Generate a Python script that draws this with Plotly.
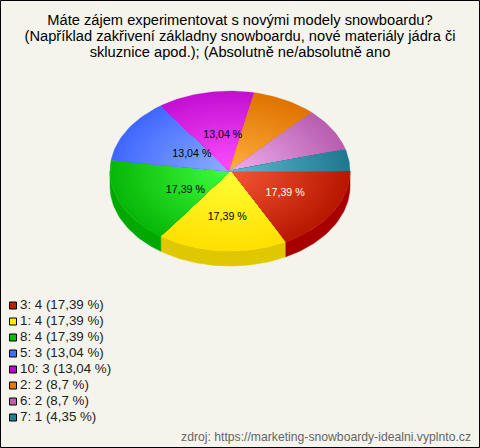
import math
import plotly.graph_objects as go

# ---- data ----
categories = ["3", "1", "8", "5", "10", "2", "6", "7"]
counts = [4, 4, 4, 3, 3, 2, 2, 1]
percent_labels = ["17,39", "17,39", "17,39", "13,04", "13,04", "8,7", "8,7", "4,35"]
slice_labelled = [True, True, True, True, True, False, False, False]
title_lines = [
    "Máte zájem experimentovat s novými modely snowboardu?",
    "(Například zakřivení základny snowboardu, nové materiály jádra či",
    "skluznice apod.); (Absolutně ne/absolutně ano",
]
source_text = "zdroj: https://marketing-snowboardy-idealni.vyplnto.cz"

# ---- styles ----
legend_colors = ["#c02000", "#ffe800", "#00c000", "#4070ff", "#c000d8", "#e87800", "#c060b0", "#208098"]
inner_colors = ["#f85838", "#ffff38", "#40ff40", "#90b0ff", "#ff50ff", "#ffb040", "#f0b0f0", "#60bcd4"]
outer_colors = ["#b81800", "#ffe000", "#08b808", "#4068ff", "#c410d4", "#e07400", "#b85fb0", "#1f7890"]
wall_colors = ["#a80000", "#e0c800", "#00a800", "#2850c0", "#9000a0", "#b05000", "#904080", "#105868"]
label_colors = ["white", "black", "black", "black", "black", "black", "black", "black"]
label_nudge = [(2, -1), (-5, 4), (0, 1), (3, 3), (-2, 2), (0, 0), (0, 0), (0, 0)]
BG = "#f5f4ec"
FONT = "Liberation Sans, Arial, sans-serif"
CX, CY, RX, RY, DEPTH = 230, 171, 120, 80, 15
RINGS = 30


def hex_rgb(c):
    return tuple(int(c[i:i + 2], 16) for i in (1, 3, 5))


def mix(a, b, t):
    ra, rb = hex_rgb(a), hex_rgb(b)
    return "rgb(%d,%d,%d)" % tuple(round(x + (y - x) * t) for x, y in zip(ra, rb))


total = sum(counts)
angles = [0.0]
for v in counts:
    angles.append(angles[-1] + 360.0 * v / total)


def arc(a0, a1, k=1.0, dy=0.0):
    n = max(2, int(abs(a1 - a0) / 1.5) + 1)
    xs, ys = [], []
    for i in range(n + 1):
        t = math.radians(a0 + (a1 - a0) * i / n)
        xs.append(CX + RX * k * math.cos(t))
        ys.append(CY + RY * k * math.sin(t) + dy)
    return xs, ys


fig = go.Figure()

# side wall (only the front half is visible)
for i in range(len(counts)):
    a0, a1 = angles[i], min(angles[i + 1], 180.0)
    if a0 >= 180:
        continue
    x1, y1 = arc(a0, a1)
    x2, y2 = arc(a1, a0, dy=DEPTH)
    fig.add_trace(go.Scatter(x=x1 + x2 + x1[:1], y=y1 + y2 + y1[:1], mode="lines", fill="toself",
                             fillcolor=wall_colors[i], line=dict(width=0.5, color=wall_colors[i]),
                             hoverinfo="skip", showlegend=False))

# top face, shaded from the rim to the centre
for i in range(len(counts)):
    for r in range(RINGS):
        k = 1 - r / RINGS
        col = mix(outer_colors[i], inner_colors[i], 1 - k)
        xa, ya = arc(angles[i], angles[i + 1], k=k)
        fig.add_trace(go.Scatter(x=[CX] + xa + [CX], y=[CY] + ya + [CY], mode="lines", fill="toself",
                                 fillcolor=col, line=dict(width=0.3, color=col),
                                 hoverinfo="skip", showlegend=False))

# percent labels on slices
lx, ly, lt, lc = [], [], [], []
for i in range(len(counts)):
    if not slice_labelled[i]:
        continue
    t = math.radians((angles[i] + angles[i + 1]) / 2)
    lx.append(CX + 6 + RX * 0.46 * math.cos(t) + label_nudge[i][0])
    ly.append(CY + 2 + RY * 0.51 * math.sin(t) + label_nudge[i][1])
    lt.append(percent_labels[i] + " %")
    lc.append(label_colors[i])
fig.add_trace(go.Scatter(x=lx, y=ly, mode="text", text=lt, textposition="middle center",
                         textfont=dict(family=FONT, size=10.67, color=lc), hoverinfo="skip", showlegend=False))

# legend
leg_y = [305 + 16 * i for i in range(len(categories))]
leg_text = ["%s: %d (%s %%)" % (c, v, p) for c, v, p in zip(categories, counts, percent_labels)]
fig.add_trace(go.Scatter(x=[13] * len(categories), y=[y + 0.5 for y in leg_y], mode="markers",
                         marker=dict(symbol="square", size=7, color=legend_colors, line=dict(width=1, color="black")),
                         hoverinfo="skip", showlegend=False))
fig.add_trace(go.Scatter(x=[20] * len(categories), y=[y + 1 for y in leg_y], mode="text", text=leg_text,
                         textposition="middle right",
                         textfont=dict(family=FONT, size=13.33, color="#222"), hoverinfo="skip", showlegend=False))

# title lines and source
fig.add_trace(go.Scatter(x=[240] * 3, y=[21, 37, 53], mode="text", text=title_lines,
                         textposition="middle center",
                         textfont=dict(family=FONT, size=14.67, color="black"), hoverinfo="skip", showlegend=False))
fig.add_trace(go.Scatter(x=[471], y=[438], mode="text", text=[source_text], textposition="middle left",
                         textfont=dict(family=FONT, size=12.2, color="#666"), hoverinfo="skip", showlegend=False))

# one-pixel frame round the whole picture
fig.add_trace(go.Scatter(x=[0.5, 479.5, 479.5, 0.5, 0.5], y=[0.5, 0.5, 447.5, 447.5, 0.5], mode="lines",
                         line=dict(color="black", width=1), cliponaxis=False,
                         hoverinfo="skip", showlegend=False))

fig.update_layout(
    width=480, height=448, autosize=False, margin=dict(l=0, r=0, t=0, b=0),
    paper_bgcolor=BG, plot_bgcolor=BG, showlegend=False,
    xaxis=dict(range=[0, 480], visible=False, fixedrange=True),
    yaxis=dict(range=[448, 0], visible=False, fixedrange=True),
)
fig.write_html("out.html", config={"displayModeBar": False},
               post_script="document.body.style.margin='0';document.body.style.overflow='hidden';")
